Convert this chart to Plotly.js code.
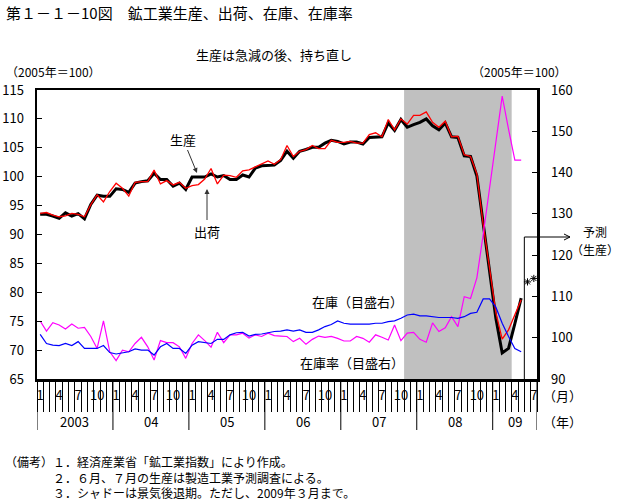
<!DOCTYPE html>
<html>
<head>
<meta charset="utf-8">
<script src="https://cdn.plot.ly/plotly-3.0.1.min.js"></script>
<style>html,body{margin:0;padding:0;background:#fff;}#chart{width:621px;height:504px;}</style>
</head>
<body>
<div id="chart"></div>
<script>
// ---- data (2003年1月 〜 2009年5月, 月次, 2005年=100) ----
const years = ['2003', '04', '05', '06', '07', '08', '09'];
const monthsPerYear = [12, 12, 12, 12, 12, 12, 7];
const monthLabels = ['1', '4', '7', '10'];

const production = [ // 生産
  93.5, 93.5, 93.2, 92.8, 93.75, 93.2, 93.6, 92.7, 95.2, 96.8, 96.6, 96.6,
  97.9, 97.8, 97.3, 98.9, 99.15, 99.3, 100.6, 99.5, 99.5, 98.35, 98.9, 97.8,
  99.95, 99.95, 99.95, 100.5, 99.95, 100.2, 99.5, 99.5, 100.3, 99.95, 101.5, 101.9,
  102.0, 102.0, 102.8, 104.4, 103.2, 104.4, 104.7, 105.1, 105.1, 105.8, 106.3, 106.1,
  105.66, 106.0, 106.0, 105.66, 106.8, 106.9, 106.9, 109.3, 108.0, 109.9, 108.55, 109.0,
  109.4, 110.0, 108.8, 108.1, 109.3, 106.9, 106.8, 103.6, 103.5, 100.1, 91.7, 84.2,
  75.5, 69.5, 70.3, 74.6, 79.0
];
const shipments = [ // 出荷
  93.64, 93.8, 93.35, 93.07, 93.24, 93.64, 93.47, 93.07, 95.17, 96.88, 95.63, 97.44,
  98.86, 98.0, 96.65, 99.03, 99.15, 99.15, 101.14, 98.75, 99.32, 98.58, 99.03, 98.0,
  98.47, 98.64, 99.6, 101.42, 98.75, 100.28, 100.17, 99.9, 101.02, 101.19, 101.7, 102.16,
  102.73, 102.16, 102.95, 105.4, 103.5, 104.4, 104.7, 105.4, 104.85, 104.85, 106.3, 105.95,
  105.95, 106.1, 105.8, 105.8, 107.3, 107.6, 106.9, 109.9, 108.1, 110.0, 109.1, 110.6,
  110.6, 111.2, 109.4, 108.55, 109.6, 106.9, 107.0, 103.8, 103.5, 100.5, 91.7, 84.2,
  76.5, 71.9, 73.5, 76.1, 78.7
];
const inventory = [ // 在庫（目盛右）
  100.8, 98.6, 98.2, 98.1, 98.6, 98.1, 99.05, 97.4, 97.4, 97.4, 98.1, 96.4,
  96.06, 96.4, 96.6, 97.3, 97.0, 97.0, 95.8, 97.8, 98.6, 97.4, 97.4, 96.2,
  98.2, 99.05, 98.8, 98.6, 99.6, 99.6, 100.7, 101.2, 101.3, 100.4, 100.8, 100.9,
  101.2, 101.5, 101.6, 101.9, 101.6, 101.9, 101.3, 101.3, 101.9, 102.7, 103.2, 104.05,
  103.5, 103.3, 103.3, 103.3, 103.3, 103.5, 103.5, 103.9, 104.1, 104.7, 105.5, 105.7,
  105.3, 105.3, 105.1, 104.9, 104.9, 104.9, 104.7, 105.1, 105.9, 106.15, 109.4, 109.4,
  107.4, 103.5, 100.3, 97.4, 96.6
];
const inventoryRatio = [ // 在庫率（目盛右）
  104.05, 101.6, 103.65, 103.1, 102.1, 103.3, 102.3, 102.5, 100.3, 97.4, 104.1, 96.6,
  94.45, 97.0, 96.6, 98.6, 100.1, 97.8, 94.6, 99.3, 98.8, 98.8, 97.8, 95.0,
  98.6, 100.7, 99.3, 97.7, 101.3, 98.8, 100.7, 100.7, 101.1, 99.9, 100.7, 100.3,
  101.1, 100.5, 100.4, 100.3, 99.05, 99.85, 98.4, 99.6, 100.4, 100.1, 100.3, 99.85,
  99.2, 99.2, 100.3, 99.85, 98.9, 100.7, 100.1, 99.45, 103.1, 99.3, 101.1, 101.3,
  99.6, 98.9, 103.6, 101.5, 102.4, 105.1, 102.7, 109.95, 109.5, 114.5, 125.0, 136.5,
  147.5, 158.5, 150.5, 143.0, 143.0
];
const forecastMonths = [77, 78];          // 2009年6月, 7月 (index from 2003年1月)
const forecastProduction = [81.8, 82.4];  // 生産予測
const recessionStart = 58;                // 2007年11月
const recessionEnd = 75;                  // 2009年3月末
const notes = [
  '（備考）１．経済産業省「鉱工業指数」により作成。',
  '　　　　２．６月、７月の生産は製造工業予測調査による。',
  '　　　　３．シャドーは景気後退期。ただし、2009年３月まで。'
];

// ---- derived positions ----
const totalMonths = monthsPerYear.reduce((a, b) => a + b, 0);
const xs = production.map((_, i) => i + 0.5);
const tickvals = [], ticktext = [];
const yearBounds = [0];
let start = 0;
monthsPerYear.forEach((n) => {
  monthLabels.forEach((lab) => {
    const m = parseInt(lab, 10);
    if (m <= n) { tickvals.push(start + m - 0.5); ticktext.push(lab); }
  });
  start += n;
  yearBounds.push(start);
});

const JP = '"Noto Sans CJK JP", "Noto Sans", sans-serif';
const plotTop = 90, plotBottom = 379, plotH = plotBottom - plotTop, plotLeft = 37, plotW = 500;
const py = (pix) => (plotBottom - pix) / plotH;   // pixel row -> paper y
const px = (pix) => (pix - plotLeft) / plotW;     // pixel col -> paper x

const traces = [
  { x: xs, y: inventoryRatio, yaxis: 'y2', type: 'scatter', mode: 'lines',
    line: { color: '#FF00FF', width: 1.2 }, name: '在庫率' },
  { x: xs, y: inventory, yaxis: 'y2', type: 'scatter', mode: 'lines',
    line: { color: '#0000FF', width: 1.2 }, name: '在庫' },
  { x: xs, y: production, type: 'scatter', mode: 'lines',
    line: { color: '#000000', width: 3 }, name: '生産' },
  { x: xs, y: shipments, type: 'scatter', mode: 'lines',
    line: { color: '#FF0000', width: 1.3 }, name: '出荷' },
  { x: forecastMonths.map(m => m + 0.5), y: forecastProduction, type: 'scatter', mode: 'markers',
    marker: { symbol: 'asterisk-open', size: 6, color: '#000', line: { color: '#000', width: 1 } },
    name: '予測' }
];

const shapes = [
  { type: 'rect', xref: 'x', yref: 'paper', x0: recessionStart, x1: recessionEnd, y0: 0, y1: 1,
    fillcolor: '#C0C0C0', line: { width: 0 }, layer: 'below' }
];
yearBounds.forEach((b) => {
  shapes.push({ type: 'line', xref: 'x', yref: 'paper', x0: b, x1: b, y0: 0, y1: py(430),
    line: { color: '#000', width: 1 } });
});
// 予測 bracket and arrow
shapes.push({ type: 'line', xref: 'x', yref: 'paper', x0: forecastMonths[0], x1: forecastMonths[0],
  y0: 0, y1: py(237), line: { color: '#000', width: 1 } });
shapes.push({ type: 'line', xref: 'paper', yref: 'paper', x0: px(524.4), x1: px(570),
  y0: py(237), y1: py(237), line: { color: '#000', width: 1 } });
shapes.push({ type: 'path', xref: 'paper', yref: 'paper',
  path: 'M ' + px(564) + ' ' + py(234) + ' L ' + px(570) + ' ' + py(237) + ' L ' + px(564) + ' ' + py(240),
  line: { color: '#000', width: 1 } });

function txt(text, xPix, yPix, size, xanchor) {
  return { text: text, xref: 'paper', yref: 'paper', x: px(xPix), y: py(yPix),
    xanchor: xanchor || 'center', yanchor: 'middle', showarrow: false,
    font: { family: JP, size: size, color: '#000' } };
}

const notesAnn = txt(notes.join('<br>'), 3, 477, 12, 'left');
notesAnn.align = 'left';

const annotations = [
  txt('生産は急減の後、持ち直し', 274, 54, 13),
  txt('（2005年＝100）', 4, 72, 12, 'left'),
  txt('（2005年＝100）', 470, 72, 12, 'left'),
  { text: '生産', xref: 'paper', yref: 'paper', x: px(197), y: py(173), ax: -14, ay: -34,
    showarrow: true, arrowhead: 2, arrowsize: 1, arrowwidth: 1, arrowcolor: '#333',
    font: { family: JP, size: 13, color: '#000' } },
  { text: '出荷', xref: 'paper', yref: 'paper', x: px(207), y: py(189), ax: 0, ay: 42,
    showarrow: true, arrowhead: 2, arrowsize: 1, arrowwidth: 1, arrowcolor: '#333',
    font: { family: JP, size: 13, color: '#000' } },
  txt('在庫（目盛右）', 357, 301, 13),
  txt('在庫率（目盛右）', 352, 362, 13),
  txt('予測', 595, 231, 12),
  txt('（生産）', 595, 249, 12),
  txt('（月）', 541, 395, 13, 'left'),
  txt('（年）', 541, 421, 13, 'left'),
  notesAnn
];
years.forEach((yr, k) => {
  annotations.push({ text: yr, xref: 'x', yref: 'paper', x: (yearBounds[k] + yearBounds[k + 1]) / 2,
    y: py(421), xanchor: 'center', yanchor: 'middle', showarrow: false,
    font: { family: JP, size: 13, color: '#000' } });
});

const layout = {
  width: 621, height: 504,
  margin: { l: 37, r: 84, t: 90, b: 125, pad: 0 },
  paper_bgcolor: '#fff', plot_bgcolor: '#fff',
  showlegend: false,
  title: { text: '第１－１－10図　鉱工業生産、出荷、在庫、在庫率', x: 6 / 621, xanchor: 'left',
    y: 1 - 14 / 504, yanchor: 'middle', font: { family: JP, size: 15, color: '#000' } },
  xaxis: {
    range: [0, totalMonths], showgrid: false, zeroline: false,
    showline: true, linecolor: '#000', linewidth: 2.5, mirror: true,
    tickmode: 'array', tickvals: tickvals, ticktext: ticktext, ticks: '',
    ticklabelstandoff: 3,
    tickfont: { family: JP, size: 13, color: '#000' },
    minor: { tickmode: 'linear', tick0: 0, dtick: 1, ticks: 'outside', ticklen: 30,
      tickwidth: 1, tickcolor: '#000', showgrid: false }
  },
  yaxis: {
    range: [65, 115], dtick: 5, tick0: 65, showgrid: false, zeroline: false,
    showline: true, linecolor: '#000', linewidth: 2.5,
    ticks: 'inside', ticklen: 5, tickwidth: 1, tickcolor: '#000',
    ticklabelstandoff: 8,
    tickfont: { family: JP, size: 13, color: '#000' }
  },
  yaxis2: {
    range: [90, 160], dtick: 10, tick0: 90, overlaying: 'y', side: 'right',
    showgrid: false, zeroline: false,
    showline: true, linecolor: '#000', linewidth: 2.5,
    ticks: 'inside', ticklen: 5, tickwidth: 1, tickcolor: '#000',
    ticklabelstandoff: 9,
    tickfont: { family: JP, size: 13, color: '#000' }
  },
  shapes: shapes,
  annotations: annotations
};

Plotly.newPlot('chart', traces, layout, { displayModeBar: false, staticPlot: true });
</script>
</body>
</html>
